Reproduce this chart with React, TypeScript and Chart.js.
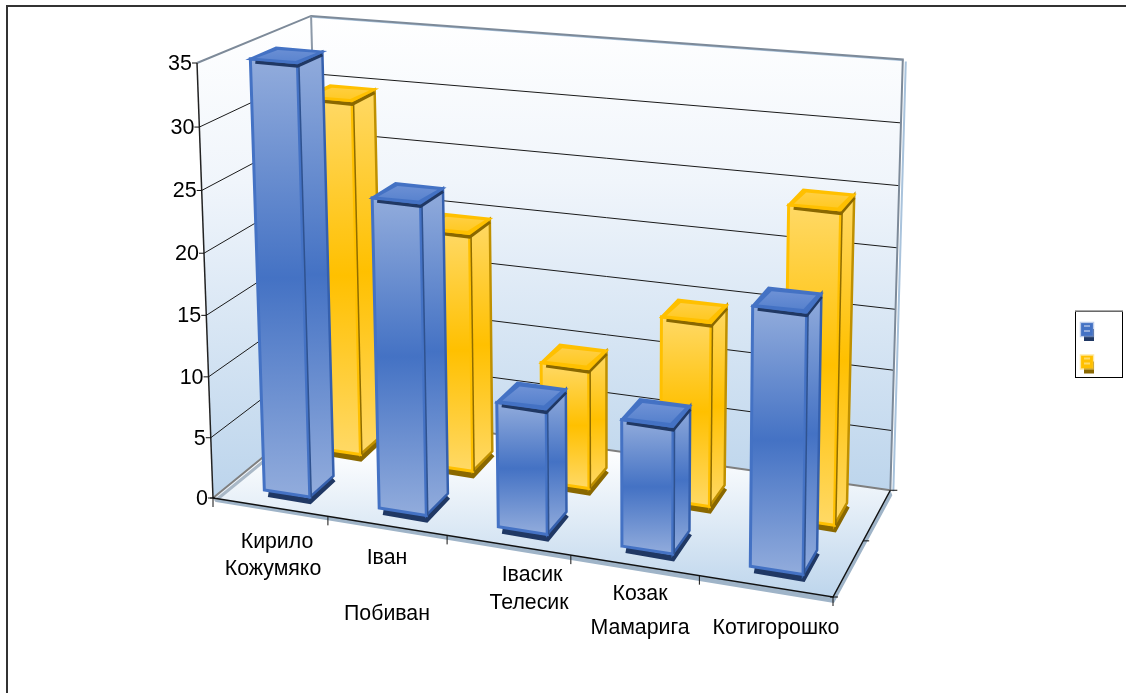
import React, { useEffect, useRef } from "react";
import { Chart, registerables } from "chart.js";

Chart.register(...registerables);

const categories = ["Кирило Кожумяко", "Іван Побиван", "Івасик Телесик", "Козак Мамарига", "Котигорошко"];
const blueValues = [35, 25, 10, 10, 20];
const yellowValues = [30, 20, 10, 15, 25];
const yTicks = { min: 0, max: 35, step: 5 };

// text placement of the wrapped category labels (centre x, centre y per line)
const labelLines = [
  [["Кирило", 277, 542], ["Кожумяко", 273, 569]],
  [["Іван", 387, 558], ["Побиван", 387, 614]],
  [["Івасик", 532, 575], ["Телесик", 529, 603]],
  [["Козак", 640, 594], ["Мамарига", 640, 628]],
  [["Котигорошко", 776, 628]],
];

// perspective frame of the 3D box
const O = [213, 498], U = [833, 597], V = [322, 409], W = [197, 63];
const pa = -0.09, pb = 0.1, pc = -0.035;
const A1 = [U[0] * (1 + pa) - O[0], U[1] * (1 + pa) - O[1]];
const A2 = [V[0] * (1 + pb) - O[0], V[1] * (1 + pb) - O[1]];
const A3 = [W[0] * (1 + pc) - O[0], W[1] * (1 + pc) - O[1]];
const P = (u: number, v: number, w: number): number[] => {
  const d = 1 + pa * u + pb * v + pc * w;
  return [
    (O[0] + A1[0] * u + A2[0] * v + A3[0] * w) / d + 4 * u * v * w,
    (O[1] + A1[1] * u + A2[1] * v + A3[1] * w) / d + 4 * (1 - u) * v * w,
  ];
};

const seriesStyle = [
  { depth: [0.14, 0.36], du: 0.002, light: "#92acdc", mid: "#4472c4", line: "#4472c4", sideLine: "#3560ae", dark: "#203864", inner: "#2f528f", topA: "#6f92d6", topB: "#5681cd" },
  { depth: [0.6, 0.82], du: 0.006, light: "#ffd966", mid: "#ffc000", line: "#ffc000", sideLine: "#bf9000", dark: "#8a6800", inner: "#8f6c00", topA: "#ffd048", topB: "#ffc81e" },
];

const poly = (ctx: CanvasRenderingContext2D, pts: number[][]) => {
  ctx.beginPath();
  pts.forEach((p, i) => (i ? ctx.lineTo(p[0], p[1]) : ctx.moveTo(p[0], p[1])));
  ctx.closePath();
};
const line = (ctx: CanvasRenderingContext2D, pts: number[][], color: string, width: number) => {
  ctx.beginPath();
  pts.forEach((p, i) => (i ? ctx.lineTo(p[0], p[1]) : ctx.moveTo(p[0], p[1])));
  ctx.strokeStyle = color;
  ctx.lineWidth = width;
  ctx.stroke();
};
const off = (p: number[], dx: number, dy: number) => [p[0] + dx, p[1] + dy];

const faceGradient = (ctx: CanvasRenderingContext2D, pts: number[][], s: any) => {
  const ys = pts.map((p) => p[1]);
  const g = ctx.createLinearGradient(0, Math.min(...ys), 0, Math.max(...ys));
  g.addColorStop(0, s.light);
  g.addColorStop(0.5, s.mid);
  g.addColorStop(1, s.light);
  return g;
};

const drawBox = (ctx: CanvasRenderingContext2D, scaleY: any) => {
  const b000 = P(0, 0, 0), b100 = P(1, 0, 0), b110 = P(1, 1, 0), b010 = P(0, 1, 0);
  const b001 = P(0, 0, 1), b011 = P(0, 1, 1), b111 = P(1, 1, 1);

  // floor thickness
  ctx.fillStyle = "#9fb4c8";
  poly(ctx, [b000, b100, b110, off(b110, 2, 5), off(b100, 1, 6), off(b000, 3, 4)]);
  ctx.fill();

  // walls
  const wall = ctx.createLinearGradient(0, b011[1], 0, b110[1]);
  wall.addColorStop(0, "#ffffff");
  wall.addColorStop(0.35, "#f0f5fb");
  wall.addColorStop(1, "#bdd5ec");
  ctx.fillStyle = wall;
  poly(ctx, [b001, b011, b010, b000]);
  ctx.fill();
  poly(ctx, [b011, b111, b110, b010]);
  ctx.fill();

  // floor
  const fl = ctx.createLinearGradient(0, b010[1] + 40, 0, b100[1]);
  fl.addColorStop(0, "#ffffff");
  fl.addColorStop(1, "#bdd5ec");
  ctx.fillStyle = fl;
  poly(ctx, [b000, b100, b110, b010]);
  ctx.fill();

  // grid lines come from the value axis ticks
  const h = scaleY.bottom - scaleY.top;
  scaleY.ticks.forEach((t: any) => {
    const w = (scaleY.bottom - scaleY.getPixelForValue(t.value)) / h;
    if (w > 0 && w < 1) {
      line(ctx, [P(0, 0, w), P(0, 1, w), P(1, 1, w)], "#1a1a1a", 1);
    }
  });

  // wall and floor edges
  line(ctx, [off(b111, 3, 2), off(b110, 3, 1)], "#a9c3dc", 2);
  line(ctx, [off(b011, 1, 1), off(b111, 1, 1)], "#a9c3dc", 1.5);
  line(ctx, [b001, b011, b111, b110], "#7d8a99", 2);
  line(ctx, [b011, b010], "#8c99a8", 2);
  line(ctx, [off(b000, 2, 3), off(b010, 2, 3)], "#a9b8c7", 3);
  line(ctx, [b000, b010, b110], "#7f7f7f", 2);

  // axes
  line(ctx, [b001, b000], "#222222", 1.5);
  line(ctx, [b000, b100, b110], "#111111", 1.5);
  scaleY.ticks.forEach((t: any) => {
    const w = (scaleY.bottom - scaleY.getPixelForValue(t.value)) / h;
    const p = P(0, 0, w);
    line(ctx, [off(p, -5, 0), p], "#111111", 1);
    ctx.fillStyle = "#000000";
    ctx.font = "21.5px 'Liberation Sans'";
    ctx.textAlign = "right";
    ctx.textBaseline = "middle";
    ctx.fillText(String(t.value), p[0] - 5, p[1] + 1);
  });
  for (let i = 0; i <= categories.length; i++) {
    const p = P(i / categories.length, 0, 0);
    line(ctx, [p, off(p, 0, 9)], "#111111", 1);
  }
  line(ctx, [off(b000, -3, 0), off(b000, 2, 0)], "#111111", 1);
  line(ctx, [off(b100, -3, 0), off(b100, 5, 0)], "#111111", 1);
  const mid = P(1, 0.5, 0);
  line(ctx, [mid, off(mid, 6, 0)], "#111111", 1);
  line(ctx, [b110, off(b110, 7, 0)], "#111111", 1);
};

const drawBar = (ctx: CanvasRenderingContext2D, u0: number, u1: number, value: number, s: any) => {
  const [v0, v1] = s.depth;
  const fbl = P(u0, v0, 0), fbr = P(u1, v0, 0), bbr = P(u1, v1, 0);
  const ftl = P(u0, v0, value), ftr = P(u1, v0, value), btr = P(u1, v1, value), btl = P(u0, v1, value);

  // dark foot
  line(ctx, [off(fbl, 4, 4), off(fbr, 0, 4), off(bbr, 0, 3)], s.dark, 6);

  // side
  const side = [fbr, bbr, btr, ftr];
  ctx.fillStyle = faceGradient(ctx, side, s);
  poly(ctx, side);
  ctx.fill();
  ctx.lineWidth = 2.5;
  ctx.strokeStyle = s.sideLine;
  ctx.stroke();

  // front
  const front = [fbl, fbr, ftr, ftl];
  ctx.fillStyle = faceGradient(ctx, front, s);
  poly(ctx, front);
  ctx.fill();
  ctx.lineWidth = 3;
  ctx.strokeStyle = s.line;
  ctx.stroke();
  line(ctx, [off(fbr, 1.5, 0), off(ftr, 1.5, 0)], s.inner, 1.5);

  // dark strip under the lid
  line(ctx, [off(ftl, 5, 3), off(ftr, 0, 3), off(btr, 0, 3)], s.dark, 3.5);

  // lid
  const lid = [ftl, ftr, btr, btl];
  ctx.fillStyle = s.mid;
  poly(ctx, lid);
  ctx.fill();
  ctx.lineWidth = 2.5;
  ctx.strokeStyle = s.line;
  ctx.stroke();
  const cx = lid.reduce((a, p) => a + p[0], 0) / 4;
  const cy = lid.reduce((a, p) => a + p[1], 0) / 4;
  const innerLid = lid.map((p) => [cx + (p[0] - cx) * 0.84, cy + (p[1] - cy) * 0.72]);
  const g = ctx.createLinearGradient(0, cy - 10, 0, cy + 10);
  g.addColorStop(0, s.topA);
  g.addColorStop(1, s.topB);
  ctx.fillStyle = g;
  poly(ctx, innerLid);
  ctx.fill();
};

const drawLegend = (ctx: CanvasRenderingContext2D) => {
  ctx.fillStyle = "#ffffff";
  ctx.fillRect(1075, 311, 47, 66);
  ctx.strokeStyle = "#000000";
  ctx.lineWidth = 1;
  ctx.strokeRect(1075.5, 311.5, 47, 66);
  line(ctx, [[1075, 311], [1123, 311]], "#8c8c8c", 1.5);
  seriesStyle.forEach((s, i) => {
    const x = 1081, y = 323 + i * 32.5;
    ctx.fillStyle = s.dark;
    ctx.fillRect(x + 3, y + 6, 10, 12);
    ctx.fillStyle = s.mid;
    ctx.fillRect(x, y, 12, 13);
    ctx.fillStyle = s.light;
    ctx.fillRect(x + 3, y + 2, 6, 2);
    ctx.fillRect(x + 3, y + 7, 6, 2);
    ctx.strokeStyle = s.light;
    ctx.globalAlpha = 0.6;
    ctx.strokeRect(x - 0.5, y - 0.5, 13, 14);
    ctx.globalAlpha = 1;
  });
};

const box3d = {
  id: "box3d",
  beforeDatasetsDraw(chart: any) {
    const { ctx, scales } = chart;
    ctx.save();
    ctx.fillStyle = "#ffffff";
    ctx.fillRect(0, 0, chart.width, chart.height);
    line(ctx, [[7, 693], [7, 6], [1126, 6]], "#333333", 2);
    drawBox(ctx, scales.y);
    ctx.restore();
  },
  afterDatasetsDraw(chart: any) {
    const { ctx, scales, chartArea } = chart;
    const span = chartArea.right - chartArea.left;
    const h = scales.y.bottom - scales.y.top;
    ctx.save();
    ctx.lineJoin = "miter";
    // back row first, then the front row
    [1, 0].forEach((ds) => {
      const meta = chart.getDatasetMeta(ds);
      meta.data.forEach((el: any) => {
        const u0 = (el.x - el.width / 2 - chartArea.left) / span + seriesStyle[ds].du;
        const u1 = (el.x + el.width / 2 - chartArea.left) / span + seriesStyle[ds].du;
        drawBar(ctx, u0, u1, (el.base - el.y) / h, seriesStyle[ds]);
      });
    });
    ctx.fillStyle = "#000000";
    ctx.font = "21.3px 'Liberation Sans'";
    ctx.textAlign = "center";
    ctx.textBaseline = "middle";
    labelLines.forEach((lines) => lines.forEach((l: any) => ctx.fillText(l[0], l[1], l[2])));
    drawLegend(ctx);
    ctx.restore();
  },
};

export default function App() {
  const ref = useRef<HTMLCanvasElement>(null);
  useEffect(() => {
    document.body.style.margin = "0";
    const chart = new Chart(ref.current!, {
      type: "bar",
      data: {
        labels: categories,
        datasets: [
          { label: "", data: blueValues, backgroundColor: "transparent", grouped: false, barPercentage: 0.4, categoryPercentage: 1 },
          { label: "", data: yellowValues, backgroundColor: "transparent", grouped: false, barPercentage: 0.4, categoryPercentage: 1 },
        ],
      } as any,
      options: {
        responsive: false,
        animation: false,
        devicePixelRatio: 1,
        layout: { padding: { left: 197, right: 293, top: 63, bottom: 195 } },
        scales: {
          x: { display: false },
          y: { display: false, min: yTicks.min, max: yTicks.max, ticks: { stepSize: yTicks.step } },
        },
        plugins: { legend: { display: false }, tooltip: { enabled: false } },
      } as any,
      plugins: [box3d],
    });
    return () => chart.destroy();
  }, []);
  return <canvas ref={ref} width={1126} height={693} style={{ display: "block", width: 1126, height: 693 }} />;
}
